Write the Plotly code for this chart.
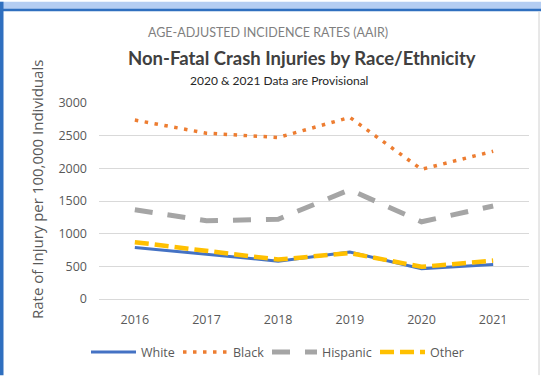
import plotly.graph_objects as go

# Age-adjusted non-fatal crash injury rates per 100,000, by race/ethnicity
years = ["2016", "2017", "2018", "2019", "2020", "2021"]
white = [790, 684, 579, 719, 463, 528]
black = [2739, 2538, 2472, 2780, 1985, 2261]
hispanic = [1367, 1197, 1221, 1673, 1182, 1423]
other = [870, 734, 603, 704, 493, 588]
y_ticks = [0, 500, 1000, 1500, 2000, 2500, 3000]

W, H = 541, 379
L, R, T, B = 99, 529, 102.7, 301.7  # plot area in pixels


def px(x):
    return (x - L) / (R - L)


def py(y):
    return (B - y) / (B - T)


FONT = "Open Sans"
TITLE_FONT = "Lato"
GREY = "#595959"

fig = go.Figure()
fig.add_trace(go.Scatter(x=years, y=white, name="White", mode="lines", legend="legend",
                         line=dict(color="#4472C4", width=3)))
fig.add_trace(go.Scatter(x=years, y=black, name="Black", mode="lines", legend="legend2",
                         line=dict(color="#ED7D31", width=3.5, dash="3.5px,6.5px")))
fig.add_trace(go.Scatter(x=years, y=hispanic, name="Hispanic", mode="lines", legend="legend3",
                         line=dict(color="#A5A5A5", width=5, dash="18px,15px")))
fig.add_trace(go.Scatter(x=years, y=other, name="Other", mode="lines", legend="legend4",
                         line=dict(color="#FFC000", width=4.5, dash="14px,6px")))

shapes = [
    # window chrome: light blue band across the top with a darker rule
    dict(type="rect", xref="paper", yref="paper", x0=px(0), x1=px(W),
         y0=py(8), y1=py(0), fillcolor="#B4CDF2", line_width=0, layer="above"),
    dict(type="rect", xref="paper", yref="paper", x0=px(0), x1=px(W),
         y0=py(9.5), y1=py(7), fillcolor="#2F6FBF", line_width=0, layer="above"),
    # left blue edge
    dict(type="rect", xref="paper", yref="paper", x0=px(0), x1=px(3.5),
         y0=py(H), y1=py(0), fillcolor="#2F6FBF", line_width=0, layer="above"),
    # faint right border of the chart area
    dict(type="line", xref="paper", yref="paper", x0=px(539), x1=px(539),
         y0=py(H), y1=py(10), line=dict(color="#D0D0D0", width=1), layer="above"),
]

annotations = [
    dict(text="AGE-ADJUSTED INCIDENCE RATES (AAIR)", x=px(268), y=py(31),
         xref="paper", yref="paper", showarrow=False, xanchor="center", yanchor="middle",
         font=dict(family=TITLE_FONT, size=12.5, color="#7F7F7F")),
    dict(text="<b>Non-Fatal Crash Injuries by Race/Ethnicity</b>", x=px(302), y=py(57),
         xref="paper", yref="paper", showarrow=False, xanchor="center", yanchor="middle",
         font=dict(family=TITLE_FONT, size=18.5, color="#404040")),
    dict(text="2020 & 2021 Data are Provisional", x=px(279), y=py(80),
         xref="paper", yref="paper", showarrow=False, xanchor="center", yanchor="middle",
         font=dict(family=TITLE_FONT, size=12, color="#262626")),
    dict(text="Rate of Injury per 100,000 Individuals", x=px(37), y=py(191),
         xref="paper", yref="paper", showarrow=False, xanchor="center", yanchor="middle",
         textangle=-90, font=dict(family=FONT, size=15, color=GREY)),
]


def legend_at(x_px):
    # one single-entry legend per series, placed along the bottom row
    return dict(orientation="h", x=px(x_px), y=py(356), xanchor="left", yanchor="middle",
                itemwidth=45,
                font=dict(family=FONT, size=12.5, color=GREY), bgcolor="rgba(0,0,0,0)")


fig.update_layout(
    width=W, height=H,
    margin=dict(l=L, r=W - R, t=T, b=H - B),
    paper_bgcolor="white", plot_bgcolor="white",
    font=dict(family=FONT, size=12, color=GREY),
    showlegend=True,
    legend=legend_at(86),
    legend2=legend_at(178),
    legend3=legend_at(267),
    legend4=legend_at(375),
    xaxis=dict(type="category", showgrid=False, zeroline=False, showline=False,
               ticks="", ticklabelstandoff=11,
               tickfont=dict(family=FONT, size=12.5, color=GREY),
               range=[-0.5, 5.5]),
    yaxis=dict(range=[0, 3000], tickvals=y_ticks, showgrid=True, gridcolor="#D9D9D9",
               gridwidth=1, zeroline=True, zerolinecolor="#D9D9D9", zerolinewidth=1,
               showline=False, ticks="", ticklabelstandoff=11,
               tickfont=dict(family=FONT, size=12.5, color=GREY)),
    shapes=shapes,
    annotations=annotations,
)

fig.write_html("out.html")
